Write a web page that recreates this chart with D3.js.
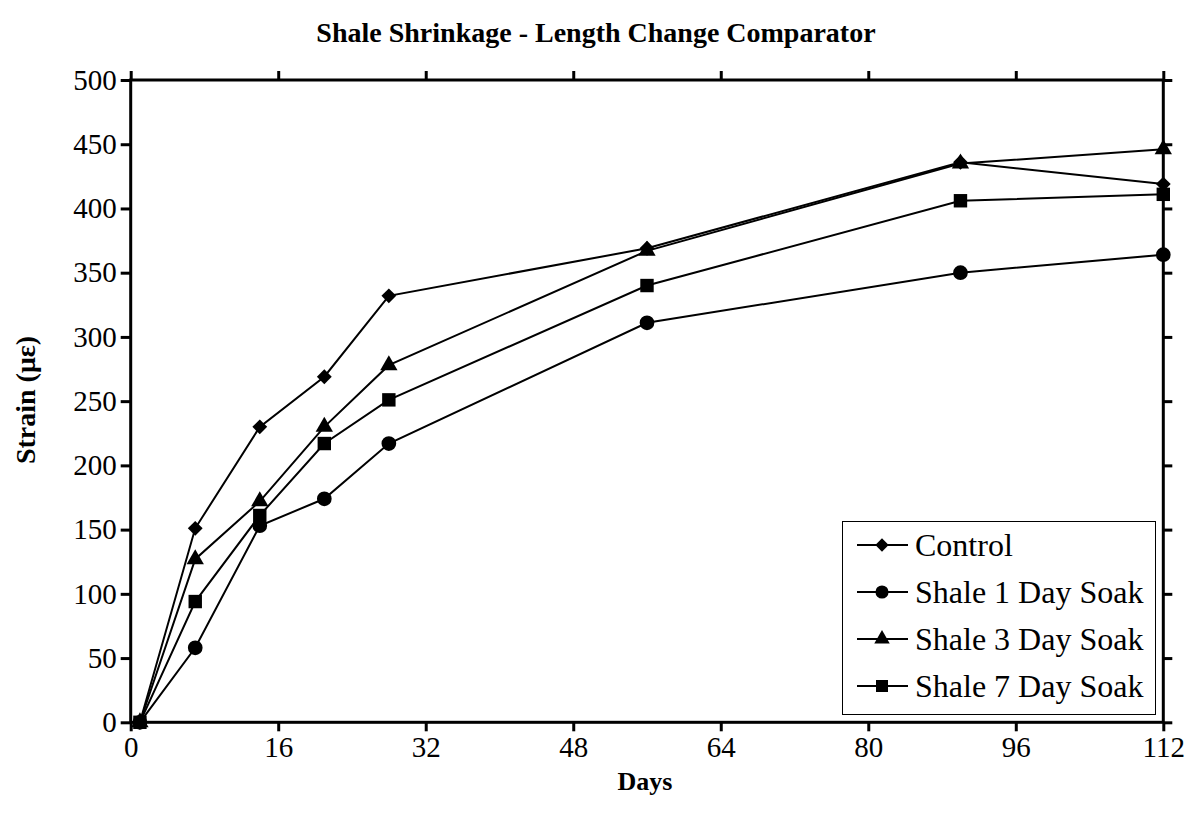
<!DOCTYPE html>
<html>
<head>
<meta charset="utf-8">
<script src="https://cdn.jsdelivr.net/npm/d3@7"></script>
<style>
  body { margin: 0; background: #fff; }
  text { font-family: "Liberation Serif", "Times New Roman", serif; fill: #000; }
</style>
</head>
<body>
<svg width="1193" height="817"></svg>
<script>
var days = [1, 7, 14, 21, 28, 56, 90, 112];
var control = [0, 151, 230, 269, 332, 369, 436, 419];
var shale1 = [0, 58, 153, 174, 217, 311, 350, 364];
var shale3 = [0, 127, 172, 230, 278, 367, 435, 446];
var shale7 = [0, 94, 161, 217, 251, 340, 406, 411];
var xTicks = [0, 16, 32, 48, 64, 80, 96, 112];
var yTicks = [0, 50, 100, 150, 200, 250, 300, 350, 400, 450, 500];

// diamond = square turned 45 degrees
var diamond = {
  draw: function(ctx, size) {
    var r = Math.sqrt(size / 2);
    ctx.moveTo(0, -r); ctx.lineTo(r, 0); ctx.lineTo(0, r); ctx.lineTo(-r, 0); ctx.closePath();
  }
};

var series = [
  { name: "Control", values: control, symbol: diamond, size: 110 },
  { name: "Shale 1 Day Soak", values: shale1, symbol: d3.symbolCircle, size: 170 },
  { name: "Shale 3 Day Soak", values: shale3, symbol: d3.symbolTriangle, size: 130 },
  { name: "Shale 7 Day Soak", values: shale7, symbol: d3.symbolSquare, size: 180 }
];

var svg = d3.select("svg");
var plotLeft = 130.7, plotRight = 1163.3, plotTop = 80, plotBottom = 722.3;

var x = d3.scaleLinear().domain([0, 112]).range([plotLeft, plotRight]);
var y = d3.scaleLinear().domain([0, 500]).range([plotBottom, plotTop]);

// title
svg.append("text")
  .attr("x", 596).attr("y", 42)
  .attr("text-anchor", "middle")
  .style("font-size", "28px").style("font-weight", "bold")
  .text("Shale Shrinkage - Length Change Comparator");

// axes
function styleAxis(g) {
  g.select(".domain").remove();
  g.selectAll(".tick line").attr("stroke", "#000").attr("stroke-width", 3);
  g.selectAll(".tick text").style("font-size", "29px").style("font-family", "Liberation Serif, serif");
}

svg.append("g").attr("transform", "translate(0," + plotBottom + ")")
  .call(d3.axisBottom(x).tickValues(xTicks).tickSize(9).tickPadding(5))
  .call(styleAxis);
svg.append("g").attr("transform", "translate(0," + plotTop + ")")
  .call(d3.axisTop(x).tickValues(xTicks).tickSize(9).tickFormat(""))
  .call(styleAxis);
svg.append("g").attr("transform", "translate(" + plotLeft + ",0)")
  .call(d3.axisLeft(y).tickValues(yTicks).tickSize(10).tickPadding(4))
  .call(styleAxis);
svg.append("g").attr("transform", "translate(" + plotRight + ",0)")
  .call(d3.axisRight(y).tickValues(yTicks).tickSize(9).tickFormat(""))
  .call(styleAxis);

svg.append("rect")
  .attr("x", plotLeft).attr("y", plotTop)
  .attr("width", plotRight - plotLeft).attr("height", plotBottom - plotTop)
  .attr("fill", "none").attr("stroke", "#000").attr("stroke-width", 3);

// axis titles
svg.append("text")
  .attr("x", 645).attr("y", 790)
  .attr("text-anchor", "middle")
  .style("font-size", "26px").style("font-weight", "bold")
  .text("Days");
svg.append("text")
  .attr("transform", "translate(35,400) rotate(-90)")
  .attr("text-anchor", "middle")
  .style("font-size", "28px").style("font-weight", "bold")
  .text("Strain (με)");

// lines and markers
var line = d3.line()
  .x(function(d, i) { return x(days[i]); })
  .y(function(d) { return y(d); });

series.forEach(function(s) {
  svg.append("path")
    .datum(s.values)
    .attr("d", line)
    .attr("fill", "none")
    .attr("stroke", "#000")
    .attr("stroke-width", 2);

  svg.selectAll(null)
    .data(s.values)
    .enter()
    .append("path")
    .attr("d", d3.symbol().type(s.symbol).size(s.size))
    .attr("transform", function(d, i) { return "translate(" + x(days[i]) + "," + y(d) + ")"; })
    .attr("fill", "#000");
});

// legend
var legend = svg.append("g");
legend.append("rect")
  .attr("x", 842.5).attr("y", 521.5)
  .attr("width", 313).attr("height", 193)
  .attr("fill", "#fff").attr("stroke", "#000").attr("stroke-width", 1);

series.forEach(function(s, i) {
  var ly = 545 + i * 47;
  legend.append("line")
    .attr("x1", 857).attr("x2", 908)
    .attr("y1", ly).attr("y2", ly)
    .attr("stroke", "#000").attr("stroke-width", 2);
  legend.append("path")
    .attr("d", d3.symbol().type(s.symbol).size(s.size * 0.8))
    .attr("transform", "translate(882," + ly + ")")
    .attr("fill", "#000");
  legend.append("text")
    .attr("x", 915).attr("y", ly + 11)
    .style("font-size", "32px")
    .text(s.name);
});
</script>
</body>
</html>
